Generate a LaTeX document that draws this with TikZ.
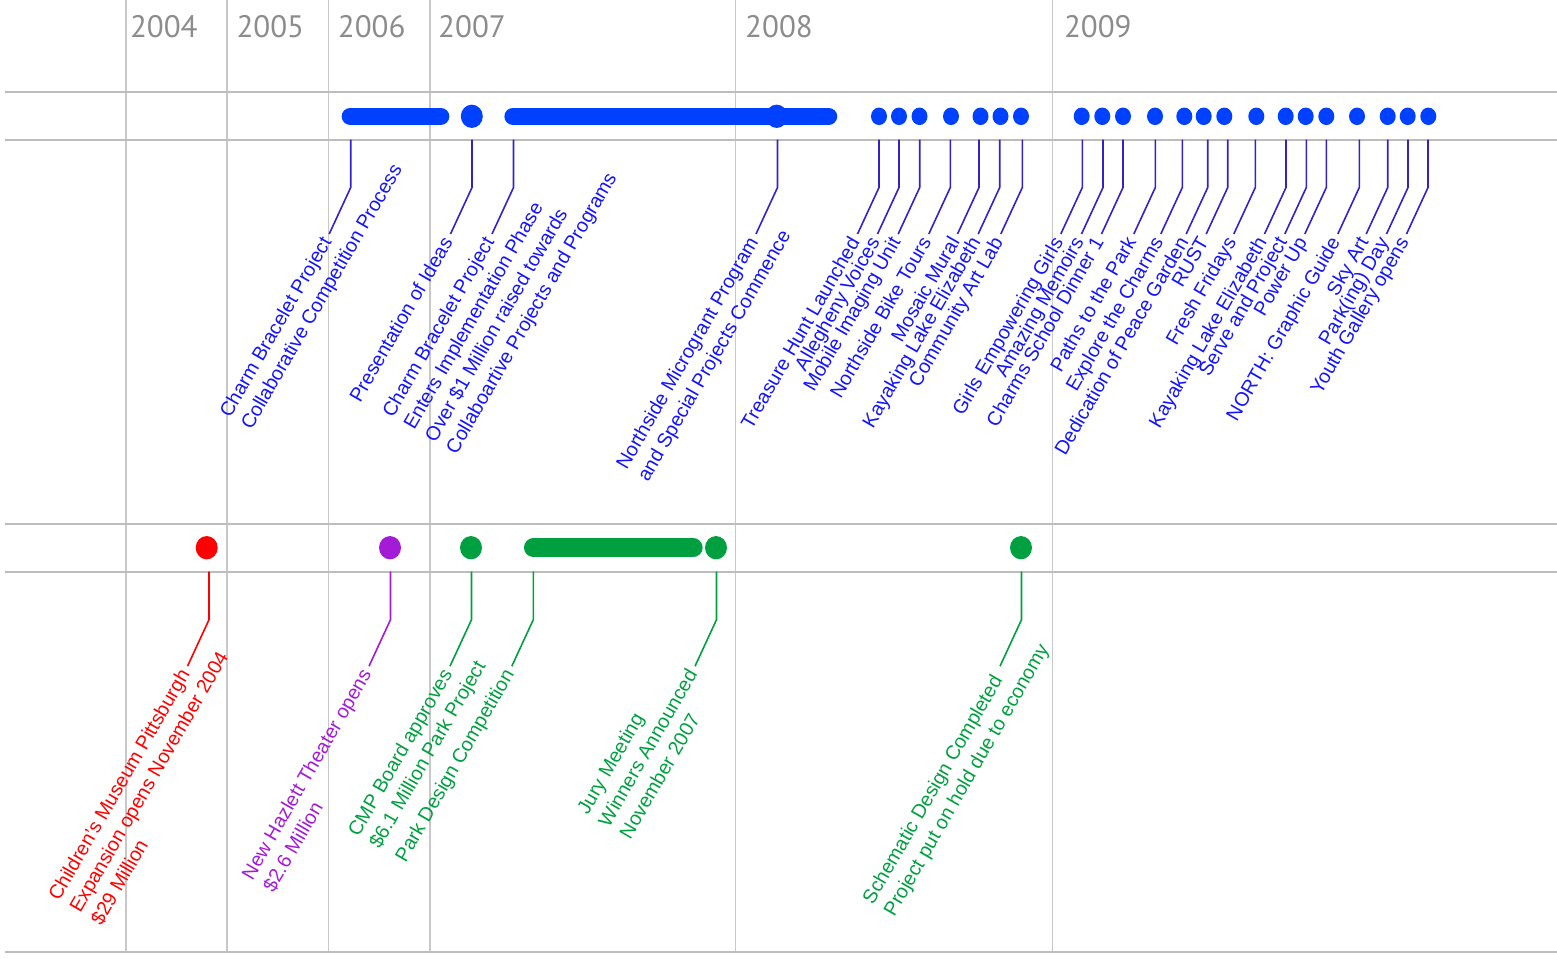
\documentclass[tikz,border=0pt]{standalone}
\usepackage{fontspec}
\setmainfont{Liberation Sans}
\newfontfamily\yearfont{PT Sans}
\usetikzlibrary{calc,shapes.geometric}
\definecolor{gridgray}{HTML}{C8C8C8}
\definecolor{linegray}{HTML}{BDBDBD}
\definecolor{yeargray}{HTML}{8C8C8C}
\definecolor{evblue}{HTML}{0040FF}
\definecolor{txblue}{HTML}{1414FF}
\definecolor{ldblue}{HTML}{3322CC}
\definecolor{evred}{HTML}{FF0000}
\definecolor{evpurple}{HTML}{A31BD6}
\definecolor{evgreen}{HTML}{00A040}
\tikzset{
  gridln/.style={gridgray, line width=1.3pt},
  ruleln/.style={linegray, line width=2pt},
  yearlbl/.style={font=\yearfont\fontsize{31}{31}\selectfont, text=yeargray, inner sep=0pt, anchor=base},
  lab/.style={font=\fontsize{19.7}{20}\selectfont, inner sep=0pt, rotate=60},
  bigdot/.style={ellipse, minimum width=22pt, minimum height=23.3pt, inner sep=0pt, draw=none, fill=#1},
  smalldot/.style={ellipse, minimum width=16pt, minimum height=17.5pt, inner sep=0pt, draw=none, fill=evblue},
  topbar/.style={evblue, line width=17.3pt, line cap=round},
  botbar/.style={evgreen, line width=18.7pt, line cap=round},
  leaderln/.style={#1, line width=1.6pt},
}
% leader: name, x, y (image, band edge), colour
\newcommand\ldr[4]{%
  \coordinate (#1s) at (#2,-#3);
  \coordinate (#1k) at (#2,-#3-48);
  \coordinate (#1e) at (#2-21.5,-#3-94.5);
  \draw[leaderln=#4] (#1s) -- (#1k) -- (#1e);}
% first label line, its end at the leader end
\newcommand\firstl[3]{%
  \node[lab, text=#2, anchor=base east] (#1-1) at ($(#1e)+(3,-8)$) {#3};}
% following line: previous node, new node, colour, text
\newcommand\nextl[4]{%
  \node[lab, text=#3, anchor=base west] (#2) at ($(#1.base west)+(-30:24.5)$) {#4};}
\begin{document}
\begin{tikzpicture}[x=1pt,y=1pt]
\useasboundingbox (0,0) rectangle (1557,-958);
% vertical year grid
\foreach \gx in {126,227,328.3,430,735.3,1052.7}
  \draw[gridln] (\gx,0) -- (\gx,-952);
% horizontal rules
\foreach \gy in {92,139.5,524.3,571.7,952}
  \draw[ruleln] (5,-\gy) -- (1557,-\gy);
% years
\node[yearlbl] (y04) at (163.8,-37.7) {2004};
\node[yearlbl] (y05) at (270.3,-37.7) {2005};
\node[yearlbl] (y06) at (371.7,-37.7) {2006};
\node[yearlbl] (y07) at (472,-37.7) {2007};
\node[yearlbl] (y08) at (779,-37.7) {2008};
\node[yearlbl] (y09) at (1097.8,-37.7) {2009};

% ---------- top band (blue) ----------
\coordinate (b1a) at (350.3,-116.3);
\coordinate (b1b) at (440.7,-116.3);
\draw[topbar] (b1a) -- (b1b);
\node[bigdot=evblue] (d472) at (471.8,-116.3) {};
\coordinate (b2a) at (513,-116.3);
\coordinate (b2b) at (828.6,-116.3);
\draw[topbar] (b2a) -- (b2b);
\node[bigdot=evblue] (d777) at (776.7,-116.3) {};
\foreach \dx [count=\i] in {879,899,919.5,951,980.5,1000.5,1021,1081.7,1102.3,1123,1155,1184.3,1203.7,1224.3,1256.3,1285.7,1305.7,1326.3,1357,1387.7,1407.7,1428.3}
  \node[smalldot] (sd\i) at (\dx,-116.3) {};

\ldr{ta}{350.7}{139.5}{ldblue}
\firstl{ta}{txblue}{Charm Bracelet Project}
\nextl{ta-1}{ta-2}{txblue}{Collaborative Competition Process}

\ldr{tb}{472}{139.5}{ldblue}
\firstl{tb}{txblue}{Presentation of Ideas}

\ldr{tc}{513.5}{139.5}{ldblue}
\firstl{tc}{txblue}{Charm Bracelet Project}
\nextl{tc-1}{tc-2}{txblue}{Enters Implementation Phase}
\nextl{tc-2}{tc-3}{txblue}{Over \$1 Million raised towards}
\nextl{tc-3}{tc-4}{txblue}{Collaboartive Projects and Programs}

\ldr{td}{777.5}{139.5}{ldblue}
\firstl{td}{txblue}{Northside Microgrant Program}
\nextl{td-1}{td-2}{txblue}{and Special Projects Commence}

\foreach \lx/\lt [count=\i] in {879/Treasure Hunt Launched, 899/Allegheny Voices, 919.7/Mobile Imaging Unit, 950.3/Northside Bike Tours, 979/Mosaic Mural, 999.7/Kayaking Lake Elizabeth, 1022.3/Community Art Lab, 1082.3/Girls Empowering Girls, 1103/Amazing Memoirs, 1123/Charms School Dinner 1, 1155.3/Paths to the Park, 1182.3/Explore the Charms, 1207.7/Dedication of Peace Garden, 1227.7/RUST, 1255.3/Fresh Fridays, 1286/Kayaking Lake Elizabeth, 1306.3/Serve and Project, 1326.3/Power Up, 1359.3/NORTH: Graphic Guide, 1387.7/Sky Art, 1408/Park(ing) Day, 1428/Youth Gallery opens}
{
  \ldr{ts\i}{\lx}{139.5}{ldblue}
  \firstl{ts\i}{txblue}{\lt}
}

% ---------- bottom band ----------
\node[bigdot=evred] (r1) at (206.7,-547.7) {};
\node[bigdot=evpurple] (p1) at (390,-547.7) {};
\node[bigdot=evgreen] (g1) at (471,-547.7) {};
\coordinate (gba) at (533.3,-547.7);
\coordinate (gbb) at (693.3,-547.7);
\draw[botbar] (gba) -- (gbb);
\node[bigdot=evgreen] (g2) at (716,-547.7) {};
\node[bigdot=evgreen] (g3) at (1021,-547.7) {};

\ldr{ba}{209}{571.7}{evred}
\firstl{ba}{evred}{Children's Museum Pittsburgh}
\nextl{ba-1}{ba-2}{evred}{Expansion opens November 2004}
\nextl{ba-2}{ba-3}{evred}{\$29 Million}

\ldr{bb}{390.5}{571.7}{evpurple}
\firstl{bb}{evpurple}{New Hazlett Theater opens}
\nextl{bb-1}{bb-2}{evpurple}{\$2.6 Million}

\ldr{bc}{471.5}{571.7}{evgreen}
\firstl{bc}{evgreen}{CMP Board approves}
\nextl{bc-1}{bc-2}{evgreen}{\$6.1 Million Park Project}

\ldr{bd}{533.3}{571.7}{evgreen}
\firstl{bd}{evgreen}{Park Design Competition}

\ldr{be}{716.5}{571.7}{evgreen}
\node[lab, text=evgreen, anchor=base east] (be-2) at ($(bee)+(3,-8)$) {Winners Announced};
\node[lab, text=evgreen, anchor=base west] (be-1) at ($(be-2.base west)+(150:24.5)$) {Jury Meeting};
\nextl{be-2}{be-3}{evgreen}{November 2007}

\ldr{bf}{1021.5}{571.7}{evgreen}
\node[lab, text=evgreen, anchor=base east] (bf-1) at ($(bfe)+(3,-14)$) {Schematic Design Completed};
\nextl{bf-1}{bf-2}{evgreen}{Project put on hold due to economy}
\end{tikzpicture}
\end{document}
